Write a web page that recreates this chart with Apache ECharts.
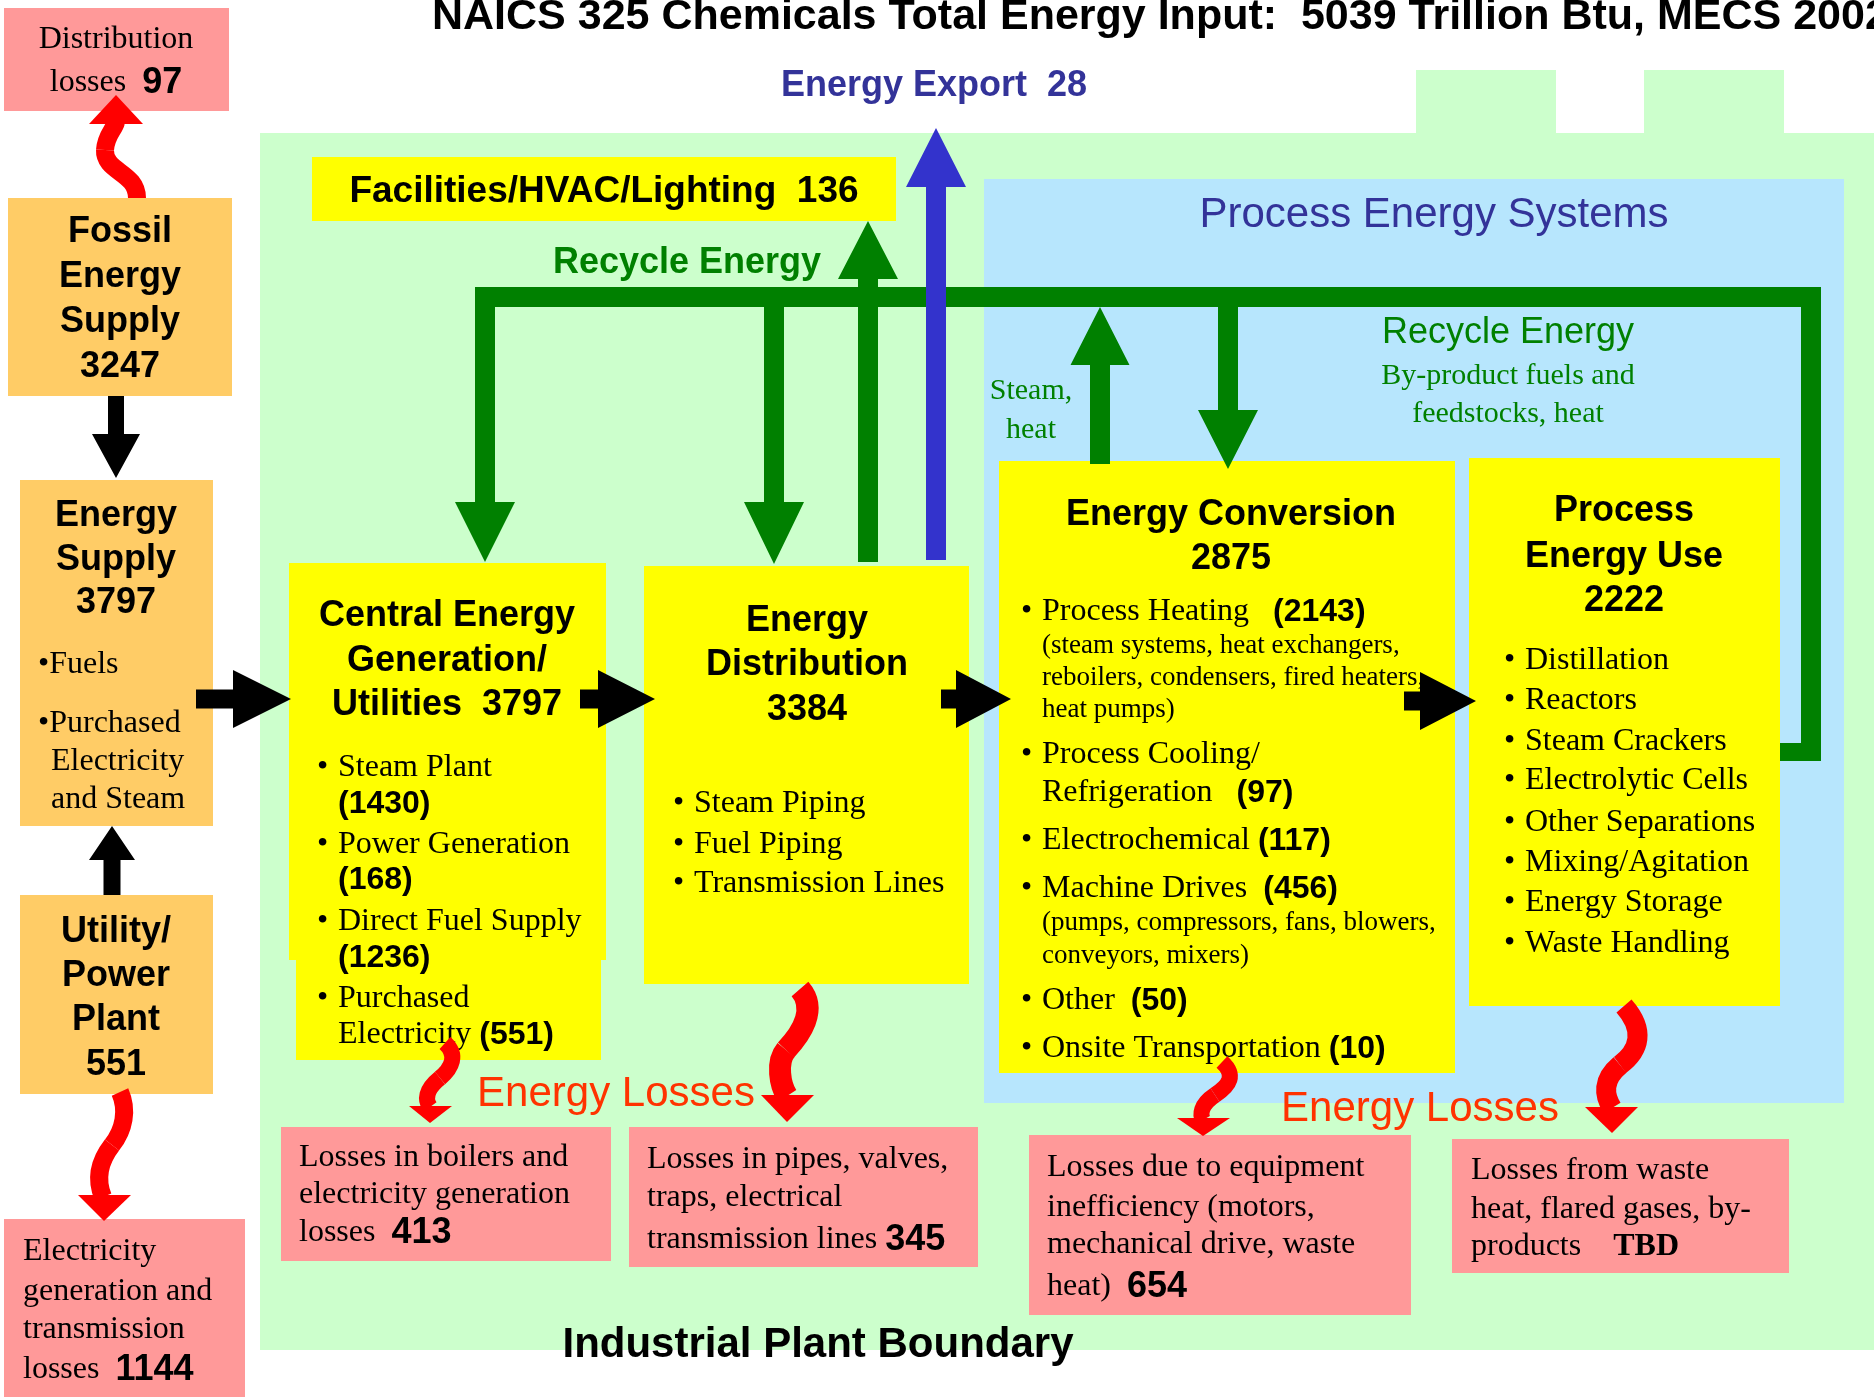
<!DOCTYPE html>
<html>
<head>
<meta charset="utf-8">
<title>NAICS 325 Chemicals energy footprint</title>
<script src="https://cdn.jsdelivr.net/npm/echarts@6/dist/echarts.min.js"></script>
<style>
  html, body { margin: 0; padding: 0; background: #fff; }
  #chart { width: 1874px; height: 1397px; }
</style>
</head>
<body>
<div id="chart"></div>
<script>
// values (trillion Btu)
const totalInput = 5039;
const supplyNames = ['Fossil\nEnergy\nSupply', 'Energy\nSupply', 'Utility/\nPower\nPlant'];
const supplyValues = [3247, 3797, 551];
const supplyTypes = ['Fuels', 'Purchased\nElectricity\nand Steam'];
const plantNames = ['Central Energy\nGeneration/\nUtilities', 'Energy\nDistribution', 'Energy Conversion', 'Process\nEnergy Use'];
const plantValues = [3797, 3384, 2875, 2222];
const centralItems = ['Steam Plant', 'Power Generation', 'Direct Fuel Supply', 'Purchased\nElectricity'];
const centralValues = [1430, 168, 1236, 551];
const distItems = ['Steam Piping', 'Fuel Piping', 'Transmission Lines'];
const convItems = ['Process Heating', 'Process Cooling/\nRefrigeration', 'Electrochemical', 'Machine Drives', 'Other', 'Onsite Transportation'];
const convValues = [2143, 97, 117, 456, 50, 10];
const convNotes = ['(steam systems, heat exchangers,\nreboilers, condensers, fired heaters,\nheat pumps)', '', '', '(pumps, compressors, fans, blowers,\nconveyors, mixers)', '', ''];
const useItems = ['Distillation', 'Reactors', 'Steam Crackers', 'Electrolytic Cells', 'Other Separations', 'Mixing/Agitation', 'Energy Storage', 'Waste Handling'];
const facilitiesValue = 136;
const exportValue = 28;
const lossLabels = [
  'Distribution\nlosses',
  'Electricity\ngeneration and\ntransmission\nlosses',
  'Losses in boilers and\nelectricity generation\nlosses',
  'Losses in pipes, valves,\ntraps, electrical\ntransmission lines',
  'Losses due to equipment\ninefficiency (motors,\nmechanical drive, waste\nheat)',
  'Losses from waste\nheat, flared gases, by-\nproducts'
];
const lossValues = [97, 1144, 413, 345, 654, 'TBD'];

const SERIF = '"Liberation Serif", "Times New Roman", serif';
const SANS = '"Liberation Sans", Arial, Helvetica, sans-serif';
const PINK = '#FF9999', ORANGE = '#FFCC66', YELLOW = '#FFFF00';
const GREEN = '#008000', BLUE = '#3333CC', RED = '#FF0000';

const rich = {
  t: { fontFamily: SERIF, fontSize: 32, fill: '#000' },
  s: { fontFamily: SERIF, fontSize: 27, fill: '#000' },
  b: { fontFamily: SANS, fontSize: 32, fontWeight: 'bold', fill: '#000' },
  n: { fontFamily: SANS, fontSize: 36, fontWeight: 'bold', fill: '#000' },
  tb: { fontFamily: SERIF, fontSize: 32, fontWeight: 'bold', fill: '#000' }
};

const els = [];
const arrows = [];

function rect(x, y, w, h, fill) {
  els.push({ type: 'rect', silent: true, shape: { x: x, y: y, width: w, height: h }, style: { fill: fill } });
}
function richText(x, y, text, align) {
  els.push({ type: 'text', x: x, y: y, silent: true,
    style: { text: text, rich: rich, align: align || 'left', verticalAlign: 'middle' } });
}
function plain(x, y, text, font, fill, align) {
  els.push({ type: 'text', x: x, y: y, silent: true,
    style: { text: text, font: font, fill: fill, align: align || 'center', verticalAlign: 'middle' } });
}
// lines of one block, each line at its own y
function lines(x, ys, arr, font, fill, align) {
  arr.forEach(function (s, i) { plain(x, ys[i], s, font, fill, align); });
}
function vArrow(cx, y0, y1, sw, hw, hl, fill) {
  const d = y1 > y0 ? 1 : -1, b = y1 - d * hl;
  arrows.push({ type: 'polygon', silent: true, style: { fill: fill },
    shape: { points: [[cx - sw / 2, y0], [cx + sw / 2, y0], [cx + sw / 2, b], [cx + hw / 2, b], [cx, y1], [cx - hw / 2, b], [cx - sw / 2, b]] } });
}
function hArrow(cy, x0, x1, sw, hw, hl, fill) {
  const b = x1 - hl;
  arrows.push({ type: 'polygon', silent: true, style: { fill: fill },
    shape: { points: [[x0, cy - sw / 2], [b, cy - sw / 2], [b, cy - hw / 2], [x1, cy], [b, cy + hw / 2], [b, cy + sw / 2], [x0, cy + sw / 2]] } });
}
function bar(x, y, w, h, fill) {
  arrows.push({ type: 'rect', silent: true, shape: { x: x, y: y, width: w, height: h }, style: { fill: fill } });
}
// wavy red loss arrow: chain of cubic segments [x0,y0, c1x,c1y, c2x,c2y, x1,y1, ...] plus a head
function curly(pts, width, head) {
  for (let i = 0; i + 7 < pts.length; i += 6) {
    arrows.push({ type: 'bezierCurve', silent: true,
      shape: { x1: pts[i], y1: pts[i + 1], cpx1: pts[i + 2], cpy1: pts[i + 3], cpx2: pts[i + 4], cpy2: pts[i + 5], x2: pts[i + 6], y2: pts[i + 7] },
      style: { stroke: RED, lineWidth: width, fill: null, lineCap: 'butt' } });
  }
  arrows.push({ type: 'polygon', silent: true, style: { fill: RED }, shape: { points: head } });
}

// ---- backgrounds
rect(260, 133, 1614, 1217, '#CCFFCC');
rect(1416, 70, 140, 64, '#CCFFCC');
rect(1644, 70, 140, 64, '#CCFFCC');
rect(984, 179, 860, 924, '#B7E6FD');

// ---- boxes
rect(4, 8, 225, 103, PINK);
rect(8, 198, 224, 198, ORANGE);
rect(20, 480, 193, 346, ORANGE);
rect(20, 895, 193, 199, ORANGE);
rect(4, 1219, 241, 178, PINK);
rect(312, 157, 584, 64, YELLOW);
rect(289, 563, 317, 397, YELLOW);
rect(296, 958, 305, 102, YELLOW);
rect(644, 566, 325, 418, YELLOW);
rect(999, 461, 456, 612, YELLOW);
rect(1469, 458, 311, 548, YELLOW);
rect(281, 1127, 330, 134, PINK);
rect(629, 1127, 349, 140, PINK);
rect(1029, 1135, 382, 180, PINK);
rect(1452, 1139, 337, 134, PINK);

// ---- headings
const H = 'bold 36px ' + SANS;
plain(432, 17, 'NAICS 325 Chemicals Total Energy Input:  ' + totalInput + ' Trillion Btu, MECS 2002', 'bold 43px ' + SANS, '#000', 'left');
plain(934, 86, 'Energy Export  ' + exportValue, H, '#333399');
plain(604, 192, 'Facilities/HVAC/Lighting  ' + facilitiesValue, 'bold 37px ' + SANS, '#000');
plain(687, 263, 'Recycle Energy', H, GREEN);
plain(1434, 215, 'Process Energy Systems', '42px ' + SANS, '#333399');
plain(1508, 333, 'Recycle Energy', '36px ' + SANS, GREEN);
lines(1508, [376, 414], ['By-product fuels and', 'feedstocks, heat'], '30px ' + SERIF, GREEN);
lines(1031, [391, 430], ['Steam,', 'heat'], '30px ' + SERIF, GREEN);
plain(616, 1094, 'Energy Losses', '42px ' + SANS, '#FF3300');
plain(1420, 1109, 'Energy Losses', '42px ' + SANS, '#FF3300');
plain(818, 1345, 'Industrial Plant Boundary', 'bold 42px ' + SANS, '#000');

// ---- supply side
lines(120, [232, 277, 322, 367], supplyNames[0].split('\n').concat(String(supplyValues[0])), H, '#000');
lines(116, [516, 560, 603], supplyNames[1].split('\n').concat(String(supplyValues[1])), H, '#000');
lines(116, [932, 976, 1020, 1065], supplyNames[2].split('\n').concat(String(supplyValues[2])), H, '#000');
const st = supplyTypes[1].split('\n');
richText(38, 665, '{t|\u2022' + supplyTypes[0] + '}');
richText(38, 724, '{t|\u2022' + st[0] + '}');
richText(51, 762, '{t|' + st[1] + '}');
richText(51, 800, '{t|' + st[2] + '}');

// ---- losses boxes
function lossBlock(i, x, ys, align, gap) {
  const ls = lossLabels[i].split('\n');
  const numStyle = typeof lossValues[i] === 'number' ? 'n' : 'tb';
  ls.forEach(function (s, k) {
    let txt = '{t|' + s + '}';
    if (k === ls.length - 1) txt = '{t|' + s + gap + '}{' + numStyle + '|' + lossValues[i] + '}';
    richText(x, ys[k] + 2, txt, align);
  });
}
lossBlock(0, 116, [38, 81], 'center', '  ');
lossBlock(1, 23, [1250, 1290, 1328, 1368], 'left', '  ');
lossBlock(2, 299, [1156, 1193, 1231], 'left', '  ');
lossBlock(3, 647, [1158, 1196, 1238], 'left', ' ');
lossBlock(4, 1047, [1166, 1206, 1243, 1285], 'left', '  ');
lossBlock(5, 1471, [1169, 1208, 1245], 'left', '    ');

// ---- plant boxes
lines(447, [616, 661, 705], plantNames[0].split('\n').map(function (s, i, a) { return i === a.length - 1 ? s + '  ' + plantValues[0] : s; }), H, '#000');
lines(807, [621, 665, 710], plantNames[1].split('\n').concat(String(plantValues[1])), H, '#000');
lines(1231, [515, 559], plantNames[2].split('\n').concat(String(plantValues[2])), H, '#000');
lines(1624, [511, 557, 601], plantNames[3].split('\n').concat(String(plantValues[3])), H, '#000');

// central generation list: name line(s) then value
const centralY = [[768, 804], [845, 880], [922, 958], [999, 1035]];
centralItems.forEach(function (name, i) {
  const p = name.split('\n');
  richText(317, centralY[i][0], '{t|\u2022}');
  richText(338, centralY[i][0], '{t|' + p[0] + '}');
  if (p.length > 1) richText(338, centralY[i][1], '{t|' + p[1] + ' }{b|(' + centralValues[i] + ')}');
  else richText(338, centralY[i][1], '{b|(' + centralValues[i] + ')}');
});
[804, 845, 884].forEach(function (y, i) {
  richText(673, y, '{t|\u2022}');
  richText(694, y, '{t|' + distItems[i] + '}');
});
// conversion list
const convY = [[612, 646, 678, 710], [755, 793], [841], [889, 923, 956], [1001], [1049]];
const convGap = ['   ', '   ', ' ', '  ', '  ', ' '];
convItems.forEach(function (name, i) {
  const p = name.split('\n');
  const ys = convY[i];
  richText(1021, ys[0], '{t|\u2022}');
  p.forEach(function (s, k) {
    let txt = '{t|' + s + '}';
    if (k === p.length - 1) txt = '{t|' + s + convGap[i] + '}{b|(' + convValues[i] + ')}';
    richText(1042, ys[k], txt);
  });
  if (convNotes[i]) {
    convNotes[i].split('\n').forEach(function (s, k) {
      richText(1042, ys[p.length + k], '{s|' + s + '}');
    });
  }
});
useItems.forEach(function (name, i) {
  const y = [661, 701, 742, 781, 823, 863, 903, 944][i];
  richText(1504, y, '{t|\u2022}');
  richText(1525, y, '{t|' + name + '}');
});

// ---- flow arrows
vArrow(116, 396, 478, 16, 48, 44, '#000');
vArrow(112, 895, 826, 17, 46, 34, '#000');
hArrow(699, 196, 291, 19, 58, 58, '#000');
hArrow(699, 580, 655, 19, 58, 57, '#000');
hArrow(699, 941, 1011, 19, 58, 55, '#000');
hArrow(701, 1404, 1476, 19, 58, 56, '#000');

// recycle loop
bar(475, 287, 1346, 20, GREEN);
bar(1801, 287, 20, 474, GREEN);
bar(1780, 743, 41, 18, GREEN);
vArrow(485, 287, 562, 20, 60, 60, GREEN);
vArrow(774, 300, 564, 20, 60, 62, GREEN);
vArrow(868, 562, 221, 20, 60, 58, GREEN);
vArrow(1100, 464, 307, 20, 59, 58, GREEN);
vArrow(1228, 300, 469, 20, 60, 59, GREEN);
vArrow(936, 560, 128, 20, 60, 59, BLUE);

// losses
curly([137, 198, 137, 172, 104, 172, 105, 150, 106, 135, 114, 130, 116, 122], 18, [[89, 124], [143, 124], [116, 95]]);
curly([120, 1092, 128, 1110, 124, 1130, 112, 1145, 98, 1163, 96, 1180, 103, 1197], 18, [[78, 1195], [131, 1195], [104, 1221]]);
curly([445, 1043, 458, 1055, 452, 1068, 440, 1078, 425, 1090, 425, 1100, 430, 1107], 16, [[409, 1106], [452, 1106], [430, 1123]]);
curly([800, 989, 818, 1010, 800, 1035, 786, 1050, 776, 1062, 780, 1085, 787, 1096], 22, [[761, 1095], [814, 1095], [787, 1122]]);
curly([1222, 1062, 1236, 1075, 1230, 1085, 1215, 1095, 1200, 1105, 1200, 1115, 1203, 1120], 16, [[1177, 1118], [1230, 1118], [1203, 1136]]);
curly([1624, 1006, 1645, 1030, 1640, 1050, 1620, 1065, 1602, 1080, 1604, 1095, 1612, 1108], 20, [[1585, 1107], [1638, 1107], [1612, 1133]]);

const chart = echarts.init(document.getElementById('chart'));
chart.setOption({
  animation: false,
  backgroundColor: '#fff',
  graphic: { elements: els.concat(arrows) }
});
</script>
</body>
</html>
